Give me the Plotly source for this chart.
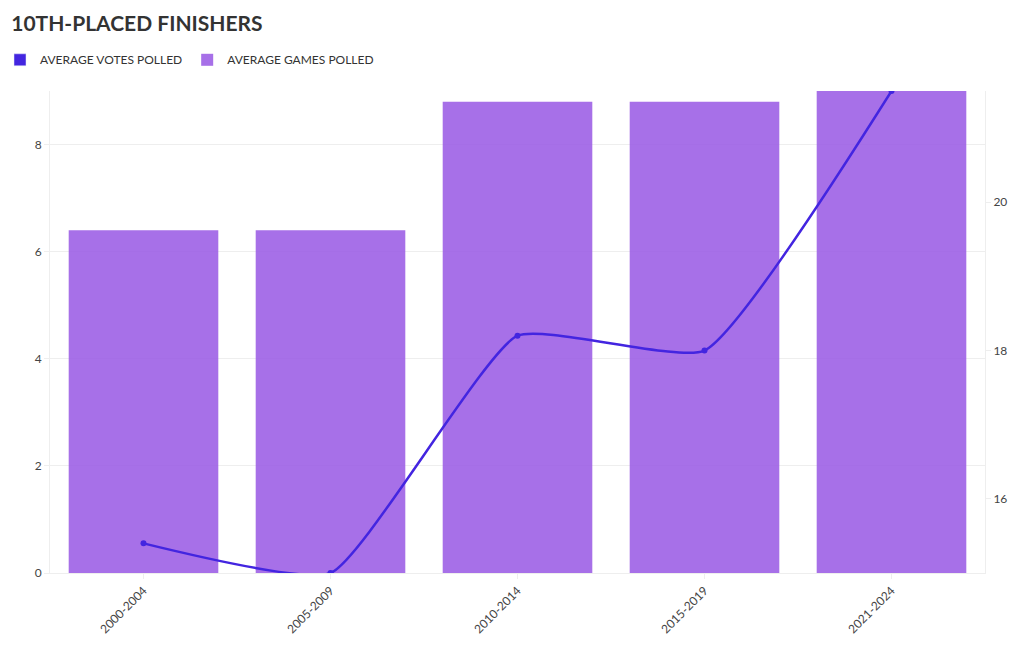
import plotly.graph_objects as go

periods = ["2000-2004", "2005-2009", "2010-2014", "2015-2019", "2021-2024"]
games_polled = [6.4, 6.4, 8.8, 8.8, 9.0]
votes_polled = [15.4, 15.0, 18.2, 18.0, 21.5]

LINE_C = "#4325e0"
BAR_C = "#9b5de5"
FONT = "Lato"

fig = go.Figure()
# legend-only swatch (square) for the line series
fig.add_trace(go.Bar(x=[periods[0]], y=[None], name="AVERAGE VOTES POLLED",
                     marker=dict(color=LINE_C), showlegend=True, hoverinfo="skip"))
fig.add_trace(go.Bar(x=periods, y=games_polled, name="AVERAGE GAMES POLLED",
                     marker=dict(color=BAR_C, line=dict(width=0)), opacity=0.88,
                     yaxis="y"))
fig.add_trace(go.Scatter(x=periods, y=votes_polled, name="AVERAGE VOTES POLLED",
                         mode="lines+markers", yaxis="y2", showlegend=False,
                         line=dict(color=LINE_C, width=2.5, shape="spline", smoothing=0.45),
                         marker=dict(color=LINE_C, size=6)))

fig.update_layout(
    width=1020, height=650,
    margin=dict(l=50, r=35, t=91, b=77, autoexpand=False),
    paper_bgcolor="white", plot_bgcolor="white",
    font=dict(family=FONT, size=12, color="#444"),
    title=dict(text="<b>10TH-PLACED FINISHERS</b>", x=0.011, xanchor="left",
               y=0.963, yanchor="middle",
               font=dict(family=FONT, size=21, color="#333")),
    legend=dict(orientation="h", xref="container", yref="container",
                x=0.0, xanchor="left", y=0.908, yanchor="middle",
                font=dict(family=FONT, size=12, color="#333"),
                itemwidth=30, traceorder="normal", itemclick=False),
    bargap=0.2, barmode="overlay",
    xaxis=dict(type="category", categoryorder="array", categoryarray=periods,
               tickangle=-45, showgrid=False, showline=True, linecolor="#eeeeee",
               ticks="outside", ticklen=5, tickcolor="#eeeeee",
               tickfont=dict(size=12, color="#444")),
    yaxis=dict(range=[0, 9], dtick=2, showgrid=True, gridcolor="#eeeeee",
               zeroline=False, showline=True, linecolor="#eeeeee",
               ticks="outside", ticklen=5, tickcolor="#eeeeee",
               tickfont=dict(size=12, color="#444")),
    yaxis2=dict(range=[15, 21.5], dtick=2, overlaying="y", side="right",
                showgrid=False, zeroline=False, showline=True, linecolor="#eeeeee",
                ticks="outside", ticklen=5, tickcolor="#eeeeee",
                tickfont=dict(size=12, color="#444")),
)

fig.write_html("out.html")
